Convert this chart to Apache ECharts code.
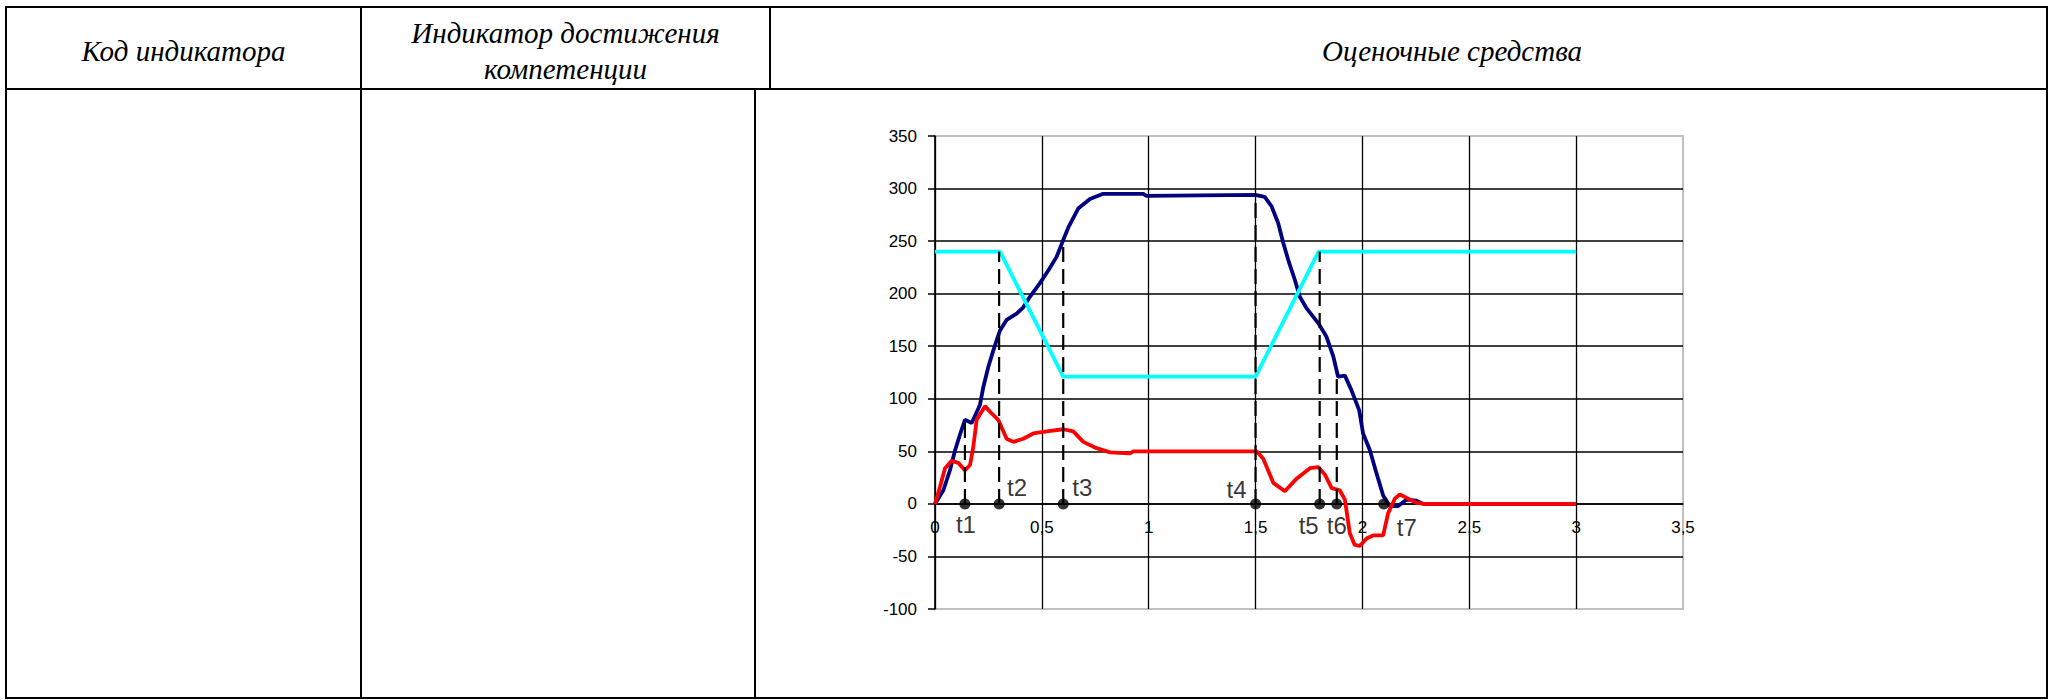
<!DOCTYPE html>
<html>
<head>
<meta charset="utf-8">
<script src="https://cdn.jsdelivr.net/npm/echarts@6/dist/echarts.min.js"></script>
<style>
  html, body { margin: 0; padding: 0; background: #fff; }
  #wrap { position: relative; width: 2056px; height: 700px; overflow: hidden; }
  .ln { position: absolute; background: #000; }
  .hd { position: absolute; font-family: 'Liberation Serif', 'Times New Roman', serif; font-style: italic; font-size: 29px; color: #000; text-align: center; white-space: nowrap; }
  #chart { position: absolute; left: 0; top: 0; width: 2056px; height: 700px; }
</style>
</head>
<body>
<div id="wrap">
  <div class="ln" style="left:5px;top:6px;width:2043px;height:2px"></div>
  <div class="ln" style="left:5px;top:88px;width:2043px;height:2px"></div>
  <div class="ln" style="left:5px;top:697px;width:2043px;height:2px"></div>
  <div class="ln" style="left:5px;top:6px;width:2px;height:693px"></div>
  <div class="ln" style="left:2046px;top:6px;width:2px;height:693px"></div>
  <div class="ln" style="left:360px;top:6px;width:2px;height:693px"></div>
  <div class="ln" style="left:769px;top:6px;width:2px;height:83px"></div>
  <div class="ln" style="left:754px;top:89px;width:2px;height:610px"></div>
  <div class="hd" style="left:7px;width:353px;top:34px;line-height:34px">Код индикатора</div>
  <div class="hd" style="left:362px;width:407px;top:15px;line-height:36px">Индикатор достижения<br>компетенции</div>
  <div class="hd" style="left:1302px;width:300px;top:34px;line-height:34px">Оценочные средства</div>
  <div id="chart"></div>
</div>
<script>
// ---- data ----
const blueT = [0, 0.039, 0.07, 0.094, 0.117, 0.14, 0.172, 0.19, 0.21, 0.226, 0.249, 0.273, 0.304, 0.335, 0.382, 0.413, 0.444, 0.491, 0.53, 0.569, 0.60, 0.624, 0.67, 0.725, 0.787, 0.974, 0.99, 1.497, 1.543, 1.575, 1.606, 1.63, 1.653, 1.684, 1.707, 1.739, 1.793, 1.832, 1.864, 1.886, 1.918, 1.949, 1.985, 2.003, 2.035, 2.066, 2.097, 2.128, 2.167, 2.206, 2.253, 2.284, 3.0];
const blueV = [0, 13, 32, 51, 66, 80, 77, 85, 94, 111, 130, 146, 165, 175, 181, 187, 197, 210, 222, 235, 251, 263, 281, 290, 295, 295, 293, 294, 292, 283, 267, 248, 232, 213, 197, 186, 172, 159, 140, 121, 122, 108, 89, 67, 51, 29, 8, -2, -2, 4, 3, 0, 0];

const cyanT = [0, 0.304, 0.6, 1.5, 1.795, 3.0];
const cyanV = [240, 240, 121, 121, 240, 240];

const redT = [0, 0.023, 0.047, 0.078, 0.109, 0.14, 0.164, 0.179, 0.195, 0.234, 0.265, 0.296, 0.335, 0.367, 0.413, 0.46, 0.522, 0.60, 0.647, 0.694, 0.756, 0.819, 0.912, 0.928, 1.505, 1.536, 1.583, 1.637, 1.692, 1.754, 1.793, 1.824, 1.856, 1.894, 1.918, 1.941, 1.964, 1.988, 2.019, 2.05, 2.097, 2.12, 2.152, 2.175, 2.214, 2.253, 2.29, 3.0];
const redV = [0, 16, 34, 41, 39, 32, 37, 54, 80, 93, 86, 80, 62, 59, 62, 67, 69, 71, 69, 59, 53, 49, 48, 50, 50, 43, 20, 12, 24, 34, 35, 28, 15, 13, 4, -28, -39, -40, -33, -30, -30, -9, 5, 9, 5, 1, 0, 0];

const markerNames = ['t1', 't2', 't3', 't4', 't5', 't6', 't7'];
const markerT = [0.14, 0.3, 0.6, 1.5, 1.8, 1.88, 2.1];
const markerTop = [80, 240, 252, 295, 240, 121, null];

const xTicks = [0, 0.5, 1, 1.5, 2, 2.5, 3, 3.5];
const yTicks = [-100, -50, 0, 50, 100, 150, 200, 250, 300, 350];

// ---- layout (not data) ----
const labelOffsets = [[1, 21], [18, -16], [19, -16], [-19, -14], [-11, 22], [0, 22], [23, 24]];
const GRID = { left: 935, right: 373, top: 136, bottom: 91 };
const plotH = 700 - GRID.top - GRID.bottom;
const yMin = yTicks[0], yMax = yTicks[yTicks.length - 1];
// x axis sits on the y = 0 line
const xAxisOffset = -plotH * (0 - yMin) / (yMax - yMin);

const zip = (a, b) => a.map((v, i) => [v, b[i]]);
const FONT = "'Liberation Sans', Arial, sans-serif";

const dashSeries = [];
markerT.forEach((t, i) => {
  if (markerTop[i] == null) return;
  dashSeries.push({
    type: 'line', data: [[t, 0], [t, markerTop[i]]], showSymbol: false, silent: true,
    lineStyle: { color: '#000', width: 2.2, type: [15, 7] }, z: 5, animation: false
  });
});

const chart = echarts.init(document.getElementById('chart'), null, { renderer: 'svg' });
chart.setOption({
  animation: false,
  grid: Object.assign({ show: true, borderColor: '#c0c0c0', borderWidth: 2, backgroundColor: 'transparent' }, GRID),
  xAxis: {
    type: 'value', min: xTicks[0], max: xTicks[xTicks.length - 1], interval: 0.5,
    position: 'bottom', offset: xAxisOffset,
    axisLine: { onZero: false, lineStyle: { color: '#000', width: 1.5 } },
    axisTick: { show: false },
    axisLabel: { margin: 15, fontSize: 17, color: '#000', fontFamily: FONT, formatter: v => String(v).replace('.', ',') },
    splitLine: { show: true, showMaxLine: false, lineStyle: { color: '#000', width: 1.3 } }
  },
  yAxis: {
    type: 'value', min: yMin, max: yMax, interval: 50,
    axisLine: { show: true, onZero: false, lineStyle: { color: '#000', width: 1.5 } },
    axisTick: { show: true, length: 7, lineStyle: { color: '#000', width: 1.5 } },
    axisLabel: { margin: 18, fontSize: 17, color: '#000', fontFamily: FONT },
    splitLine: { show: true, showMinLine: false, showMaxLine: false, lineStyle: { color: '#000', width: 1.5 } }
  },
  series: [
    { type: 'line', data: zip(blueT, blueV), showSymbol: false, lineStyle: { color: '#000080', width: 3.8 }, z: 3 },
    { type: 'line', data: zip(cyanT, cyanV), showSymbol: false, lineStyle: { color: '#00FFFF', width: 3.8 }, z: 3 },
    { type: 'line', data: zip(redT, redV), showSymbol: false, lineStyle: { color: '#FF0000', width: 3.8 }, z: 4 },
    ...dashSeries,
    {
      type: 'scatter', symbol: 'circle', symbolSize: 11, z: 6,
      itemStyle: { color: '#000' },
      data: markerT.map((t, i) => ({
        value: [t, 0],
        label: { show: true, formatter: markerNames[i], position: 'inside', offset: labelOffsets[i],
                 fontSize: 24, color: '#000', fontFamily: FONT, align: 'center', verticalAlign: 'middle' }
      }))
    }
  ]
});
</script>
</body>
</html>
